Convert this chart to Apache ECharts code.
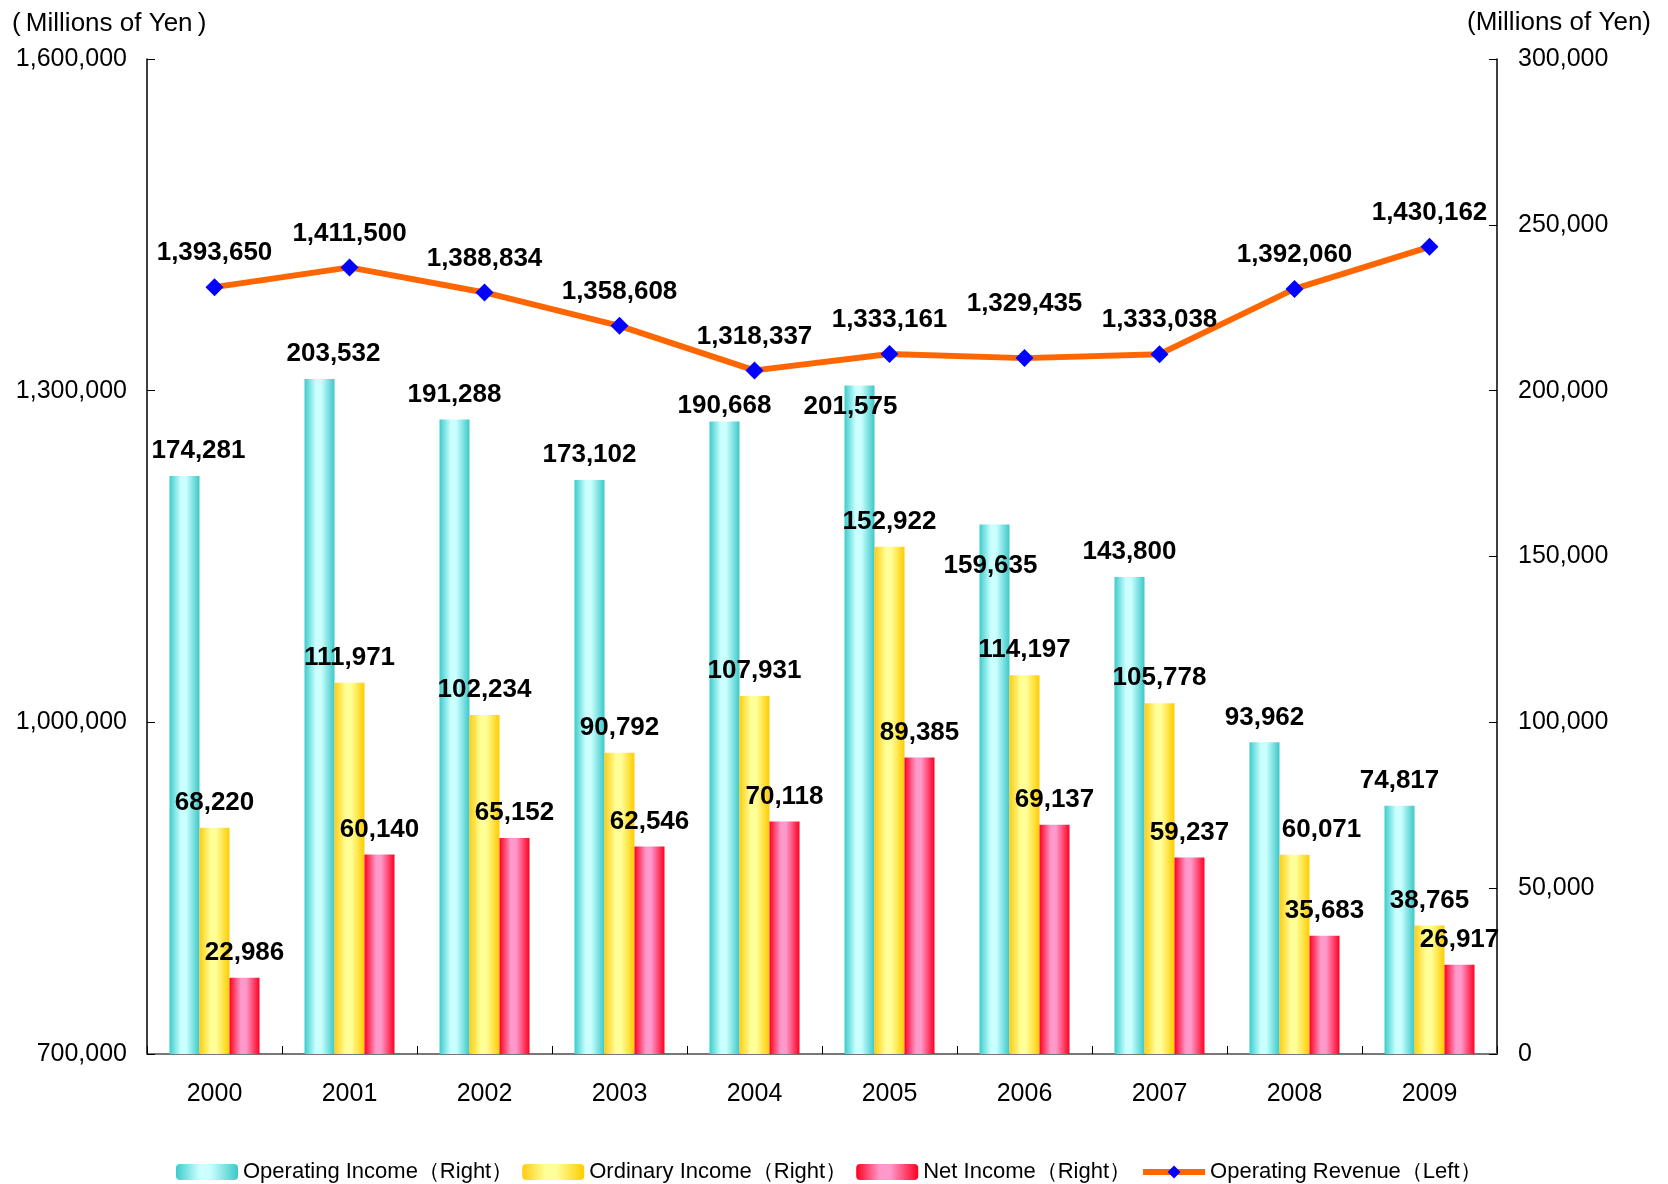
<!DOCTYPE html>
<html>
<head>
<meta charset="utf-8">
<script src="https://cdn.jsdelivr.net/npm/echarts@6/dist/echarts.min.js"></script>
<style>
html,body{margin:0;padding:0;background:#fff;}
#chart{width:1668px;height:1184px;}
</style>
</head>
<body>
<div id="chart"></div>
<script>
const categories = ['2000','2001','2002','2003','2004','2005','2006','2007','2008','2009'];
const operatingIncome = [174281, 203532, 191288, 173102, 190668, 201575, 159635, 143800, 93962, 74817];
const ordinaryIncome = [68220, 111971, 102234, 90792, 107931, 152922, 114197, 105778, 60071, 38765];
const netIncome = [22986, 60140, 65152, 62546, 70118, 89385, 69137, 59237, 35683, 26917];
const operatingRevenue = [1393650, 1411500, 1388834, 1358608, 1318337, 1333161, 1329435, 1333038, 1392060, 1430162];
const leftAxisMin = 700000, leftAxisMax = 1600000, leftAxisStep = 300000;
const rightAxisMin = 0, rightAxisMax = 300000, rightAxisStep = 50000;
const seriesNames = ['Operating Income（Right）','Ordinary Income（Right）','Net Income（Right）','Operating Revenue（Left）'];

// label nudges (layout only): [dx, dy] per data index
const labelNudges = {
  0: {0:[14,0], 1:[14,0], 4:[0,9], 5:[-9,46], 6:[-4,66]},
  1: {8:[27,0]},
  2: {},
  3: {6:[0,-20]}
};

const FONT = "'Liberation Sans', Arial, Helvetica, sans-serif";
const fmt = v => Number(v).toLocaleString('en-US');

function grad(c0, c1, c2) {
  return new echarts.graphic.LinearGradient(0, 0, 1, 0, [
    {offset: 0, color: c0},
    {offset: 0.38, color: c1},
    {offset: 0.55, color: c1},
    {offset: 1, color: c2}
  ]);
}

function buildData(values, sIdx) {
  return values.map((v, i) => {
    const n = labelNudges[sIdx][i];
    if (n) return {value: v, label: {offset: n}};
    return v;
  });
}

const labelStyle = {
  show: true,
  position: 'top',
  fontFamily: FONT,
  fontSize: 26,
  fontWeight: 'bold',
  color: '#000',
  formatter: p => fmt(p.value)
};

const chart = echarts.init(document.getElementById('chart'), null, {renderer: 'canvas'});
chart.setOption({
  animation: false,
  backgroundColor: '#fff',
  textStyle: {fontFamily: FONT},
  grid: {left: 147, right: 171, top: 59, bottom: 130, containLabel: false},
  graphic: [
    {type: 'text', left: 12, top: 11, style: {text: '(\u2009Millions of Yen\u2009)', font: '26px ' + FONT, fill: '#000'}},
    {type: 'text', right: 17, top: 10, style: {text: '(Millions of Yen)', font: '26px ' + FONT, fill: '#000'}}
  ],
  legend: {
    left: 171,
    top: 1156,
    itemWidth: 62,
    itemHeight: 16,
    itemGap: 9,
    textStyle: {fontFamily: FONT, fontSize: 22, color: '#000'},
    data: [
      seriesNames[0], seriesNames[1], seriesNames[2],
      {name: seriesNames[3], lineStyle: {width: 6, color: '#FF6600'}}
    ]
  },
  xAxis: {
    type: 'category',
    data: categories,
    boundaryGap: true,
    axisLine: {show: true, lineStyle: {color: '#777', width: 2}},
    axisTick: {show: true, inside: true, length: 8, lineStyle: {color: '#000', width: 1}},
    axisLabel: {fontFamily: FONT, fontSize: 25, color: '#000', margin: 28},
    splitLine: {show: false}
  },
  yAxis: [
    {
      type: 'value',
      position: 'left',
      min: leftAxisMin, max: leftAxisMax, interval: leftAxisStep,
      axisLine: {show: true, lineStyle: {color: '#000', width: 1.5}},
      axisTick: {show: true, inside: true, length: 8, lineStyle: {color: '#000'}},
      axisLabel: {fontFamily: FONT, fontSize: 25, color: '#000', margin: 20, formatter: fmt},
      splitLine: {show: false}
    },
    {
      type: 'value',
      position: 'right',
      min: rightAxisMin, max: rightAxisMax, interval: rightAxisStep,
      axisLine: {show: true, lineStyle: {color: '#000', width: 1.5}},
      axisTick: {show: true, inside: true, length: 8, lineStyle: {color: '#000'}},
      axisLabel: {fontFamily: FONT, fontSize: 25, color: '#000', margin: 21, formatter: fmt},
      splitLine: {show: false}
    }
  ],
  series: [
    {
      name: seriesNames[0], type: 'bar', yAxisIndex: 1, barWidth: 30, barGap: '0%',
      itemStyle: {color: grad('#3CCCCC', '#CCFFFF', '#3CC8C8')},
      label: Object.assign({distance: 12}, labelStyle),
      data: buildData(operatingIncome, 0), z: 2
    },
    {
      name: seriesNames[1], type: 'bar', yAxisIndex: 1, barWidth: 30, barGap: '0%',
      itemStyle: {color: grad('#FFCC11', '#FFFF99', '#FFCC00')},
      label: Object.assign({distance: 12}, labelStyle),
      data: buildData(ordinaryIncome, 1), z: 2
    },
    {
      name: seriesNames[2], type: 'bar', yAxisIndex: 1, barWidth: 30, barGap: '0%',
      itemStyle: {color: grad('#FF0022', '#FF99CC', '#FF0022')},
      label: Object.assign({distance: 12}, labelStyle),
      data: buildData(netIncome, 2), z: 2
    },
    {
      name: seriesNames[3], type: 'line', yAxisIndex: 0,
      symbol: 'diamond', symbolSize: 18,
      lineStyle: {color: '#FF6600', width: 6},
      itemStyle: {color: '#0000FF', borderWidth: 0},
      label: Object.assign({distance: 12}, labelStyle),
      data: buildData(operatingRevenue, 3), z: 5
    }
  ]
});
</script>
</body>
</html>
